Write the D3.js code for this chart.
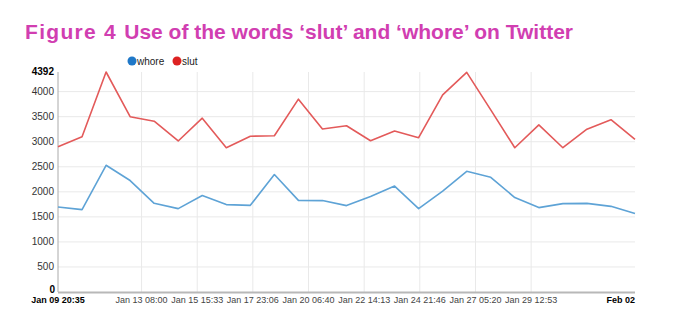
<!DOCTYPE html>
<html>
<head>
<meta charset="utf-8">
<script src="https://cdn.jsdelivr.net/npm/d3@7"></script>
<style>
  body { margin: 0; background: #fff; }
  svg { display: block; font-family: "Liberation Sans", Arial, sans-serif; }
</style>
</head>
<body>
<div id="chart"></div>
<script>
// daily samples, starting Jan 09 20:35
var startDate = new Date(2013, 0, 9, 20, 35);
var slut = [2900, 3100, 4392, 3500, 3410, 3015, 3470, 2880, 3110, 3120, 3850, 3255,
            3320, 3020, 3215, 3080, 3935, 4385, 3635, 2880, 3335, 2880, 3250, 3440, 3045];
var whore = [1697, 1645, 2530, 2225, 1770, 1665, 1925, 1745, 1730, 2345, 1830, 1825,
             1725, 1905, 2115, 1665, 2015, 2410, 2290, 1885, 1685, 1765, 1770, 1710, 1565];
var seriesNames = ["whore", "slut"];
var seriesColors = ["#1f78c8", "#dd2222"];
var lineColors = ["#5ea3d6", "#e35a5a"];
var yTicks = [0, 500, 1000, 1500, 2000, 2500, 3000, 3500, 4000];
var yMax = 4392;
var xTickLabels = ["Jan 13 08:00", "Jan 15 15:33", "Jan 17 23:06", "Jan 20 06:40",
                   "Jan 22 14:13", "Jan 24 21:46", "Jan 27 05:20", "Jan 29 12:53"];
var xTickDates = [new Date(2013, 0, 13, 8, 0), new Date(2013, 0, 15, 15, 33),
                  new Date(2013, 0, 17, 23, 6), new Date(2013, 0, 20, 6, 40),
                  new Date(2013, 0, 22, 14, 13), new Date(2013, 0, 24, 21, 46),
                  new Date(2013, 0, 27, 5, 20), new Date(2013, 0, 29, 12, 53)];

function init() {
    var width = 698, height = 322;
    var margin = { top: 72, left: 58, right: 63, bottom: 30 };

    var svg = d3.select("#chart").append("svg")
        .attr("width", width)
        .attr("height", height);

    var dates = slut.map(function (d, i) { return d3.timeDay.offset(startDate, i); });

    var x = d3.scaleTime()
        .domain([dates[0], dates[dates.length - 1]])
        .range([margin.left, width - margin.right]);

    var y = d3.scaleLinear()
        .domain([0, yMax])
        .range([height - margin.bottom, margin.top]);

    // title
    var title = svg.append("text")
        .attr("x", 25)
        .attr("y", 39)
        .style("font-size", "21px")
        .style("font-weight", "bold")
        .style("fill", "#d13eb1");
    title.append("tspan").style("letter-spacing", "1.3px").text("Figure 4 ");
    title.append("tspan").text("Use of the words \u2018slut\u2019 and \u2018whore\u2019 on Twitter");

    // grid
    svg.append("g").selectAll("line")
        .data(yTicks.slice(1))
        .enter().append("line")
        .attr("x1", margin.left).attr("x2", x.range()[1])
        .attr("y1", function (d) { return y(d); })
        .attr("y2", function (d) { return y(d); })
        .style("stroke", "#e9e9e9");

    svg.append("g").selectAll("line")
        .data(xTickDates)
        .enter().append("line")
        .attr("x1", function (d) { return x(d); })
        .attr("x2", function (d) { return x(d); })
        .attr("y1", margin.top).attr("y2", y(0))
        .style("stroke", "#e9e9e9");

    // axes
    svg.append("line")
        .attr("x1", margin.left).attr("x2", margin.left)
        .attr("y1", margin.top).attr("y2", y(0))
        .style("stroke", "#aaa");
    svg.append("line")
        .attr("x1", margin.left).attr("x2", x.range()[1])
        .attr("y1", y(0) + 0.5).attr("y2", y(0) + 0.5)
        .style("stroke", "#b8b8b8")
        .style("stroke-width", 2);

    var yLab = svg.append("g")
        .style("font-size", "10px")
        .style("fill", "#333")
        .attr("text-anchor", "end");
    yLab.selectAll("text")
        .data(yTicks.slice(1))
        .enter().append("text")
        .attr("x", margin.left - 4)
        .attr("y", function (d) { return y(d) + 3.5; })
        .text(function (d) { return d; });
    yLab.append("text")
        .attr("x", margin.left - 4).attr("y", y(yMax) + 3)
        .style("font-weight", "bold").style("fill", "#000")
        .text(yMax);
    yLab.append("text")
        .attr("x", margin.left - 3).attr("y", y(0) + 1)
        .style("font-weight", "bold").style("fill", "#000")
        .text("0");

    var xLab = svg.append("g")
        .style("font-size", "9px")
        .style("fill", "#444")
        .attr("text-anchor", "middle");
    xLab.selectAll("text")
        .data(xTickDates)
        .enter().append("text")
        .attr("x", function (d) { return x(d); })
        .attr("y", y(0) + 11)
        .text(function (d, i) { return xTickLabels[i]; });
    xLab.append("text")
        .attr("x", margin.left).attr("y", y(0) + 11)
        .style("font-weight", "bold").style("fill", "#000")
        .text("Jan 09 20:35");
    xLab.append("text")
        .attr("x", x.range()[1]).attr("y", y(0) + 11)
        .attr("text-anchor", "end")
        .style("font-weight", "bold").style("fill", "#000")
        .text("Feb 02");

    // lines
    var line = d3.line()
        .x(function (d, i) { return x(dates[i]); })
        .y(function (d) { return y(d); });

    [whore, slut].forEach(function (s, k) {
        svg.append("path")
            .datum(s)
            .attr("d", line)
            .style("fill", "none")
            .style("stroke", lineColors[k])
            .style("stroke-width", 1.6)
            .style("stroke-linejoin", "round");
    });

    // legend
    var legendX = [132, 177];
    var legend = svg.append("g").style("font-size", "10px");
    seriesNames.forEach(function (n, i) {
        legend.append("circle")
            .attr("cx", legendX[i]).attr("cy", 61).attr("r", 4.5)
            .style("fill", seriesColors[i]);
        legend.append("text")
            .attr("x", legendX[i] + 5).attr("y", 64.5)
            .style("fill", "#222")
            .text(n);
    });
}

window.onload = init;
</script>
</body>
</html>
